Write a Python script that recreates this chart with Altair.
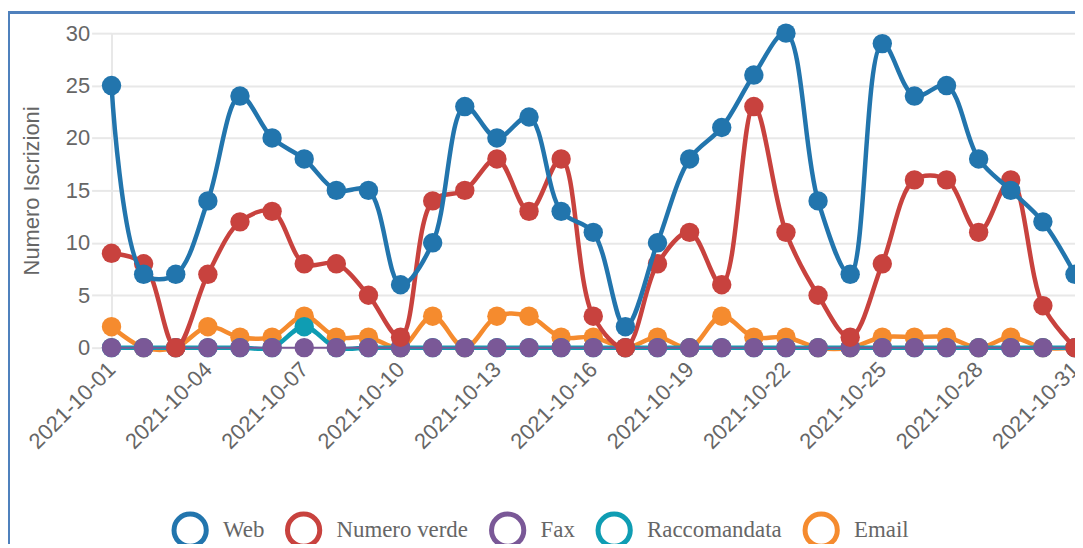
import altair as alt
import pandas as pd

dates = [f"2021-10-{d:02d}" for d in range(1, 32)]

web = [25, 7, 7, 14, 24, 20, 18, 15, 15, 6, 10, 23, 20, 22, 13, 11, 2, 10, 18, 21,
       26, 30, 14, 7, 29, 24, 25, 18, 15, 12, 7]
numero_verde = [9, 8, 0, 7, 12, 13, 8, 8, 5, 1, 14, 15, 18, 13, 18, 3, 0, 8, 11, 6,
                23, 11, 5, 1, 8, 16, 16, 11, 16, 4, 0]
fax = [0] * 31
raccomandata = [0, 0, 0, 0, 0, 0, 2, 0, 0, 0, 0, 0, 0, 0, 0, 0, 0, 0, 0, 0,
                0, 0, 0, 0, 0, 0, 0, 0, 0, 0, 0]
email = [2, 0, 0, 2, 1, 1, 3, 1, 1, 0, 3, 0, 3, 3, 1, 1, 0, 1, 0, 3,
         1, 1, 0, 0, 1, 1, 1, 0, 1, 0, 0]

series_names = ["Web", "Numero verde", "Fax", "Raccomandata", "Email"]
series_values = [web, numero_verde, fax, raccomandata, email]
colors = ["#2275ad", "#c8423e", "#7a5897", "#0f9db3", "#f58b2e"]
line_widths = [4.5, 4.5, 2, 4.5, 4.5]

tick_dates = dates[::3]

rows = []
for name, vals in zip(series_names, series_values):
    for d, v in zip(dates, vals):
        rows.append({"date": d, "value": v, "serie": name})
df = pd.DataFrame(rows)

W, H = 968, 316

x_enc = alt.X(
    "date:O",
    sort=dates,
    scale=alt.Scale(type="point", padding=0, domain=dates),
    axis=alt.Axis(
        values=tick_dates, title=None, labelAngle=-45, labelAlign="right",
        labelBaseline="middle", labelFontSize=22, labelColor="#666666",
        labelFont="Liberation Sans", labelPadding=18, ticks=False, domain=False,
        grid=False, labelOverlap=False,
    ),
)
y_enc = alt.Y(
    "value:Q",
    scale=alt.Scale(domain=[0, 30], nice=False),
    axis=alt.Axis(
        values=[0, 5, 10, 15, 20, 25, 30], title="Numero Iscrizioni",
        titleFontSize=22, titleFontWeight="normal", titleColor="#666666",
        titleFont="Liberation Sans", titlePadding=22,
        labelFontSize=22, labelColor="#666666", labelFont="Liberation Sans",
        labelPadding=2, tickSize=20, tickColor="#e8e8e8", tickWidth=2,
        domainColor="#e8e8e8", domainWidth=2, gridColor="#e8e8e8", gridWidth=2,
    ),
)

base = alt.Chart(df)
layers = []
# drawing order: last dataset at bottom, first dataset on top
for name, col, lw in reversed(list(zip(series_names, colors, line_widths))):
    sub = base.transform_filter(alt.datum.serie == name)
    layers.append(
        sub.mark_line(interpolate="catmull-rom", strokeWidth=lw, color=col)
        .encode(x=x_enc, y=y_enc)
    )
    layers.append(
        sub.mark_point(filled=True, size=380, opacity=1, color=col)
        .encode(x=x_enc, y=y_enc)
    )

legend_layer = alt.Chart(alt.Data(values=[{"serie": "Web"}])).mark_point(
    filled=False, size=0, strokeWidth=0, opacity=0
).encode(
    color=alt.Color(
        "serie:N",
        scale=alt.Scale(domain=series_names, range=colors),
        legend=alt.Legend(
            title=None, orient="none", direction="horizontal",
            legendX=60, legendY=480, symbolType="circle", symbolSize=1050,
            symbolStrokeWidth=5, symbolFillColor="transparent", symbolOpacity=1,
            labelFont="Liberation Serif", labelFontSize=23, labelColor="#666666",
            labelOffset=14, columnPadding=12, labelLimit=300,
        ),
    )
)

frame_top = alt.Chart(df).mark_rule(color="#4f81bd", strokeWidth=2).encode(
    x=alt.value(-104), x2=alt.value(W + 10), y=alt.value(-21)
)
frame_left = alt.Chart(df).mark_rule(color="#4f81bd", strokeWidth=2).encode(
    x=alt.value(-103), y=alt.value(-22), y2=alt.value(H + 220)
)

chart = alt.layer(*layers, legend_layer, frame_top, frame_left).properties(
    width=W, height=H,
    padding={"left": 104, "top": 24, "right": 0, "bottom": 196},
    autosize=alt.AutoSizeParams(type="none"),
).configure_view(stroke=None)

chart.save("out.html", embed_options={"renderer": "svg", "actions": False})
